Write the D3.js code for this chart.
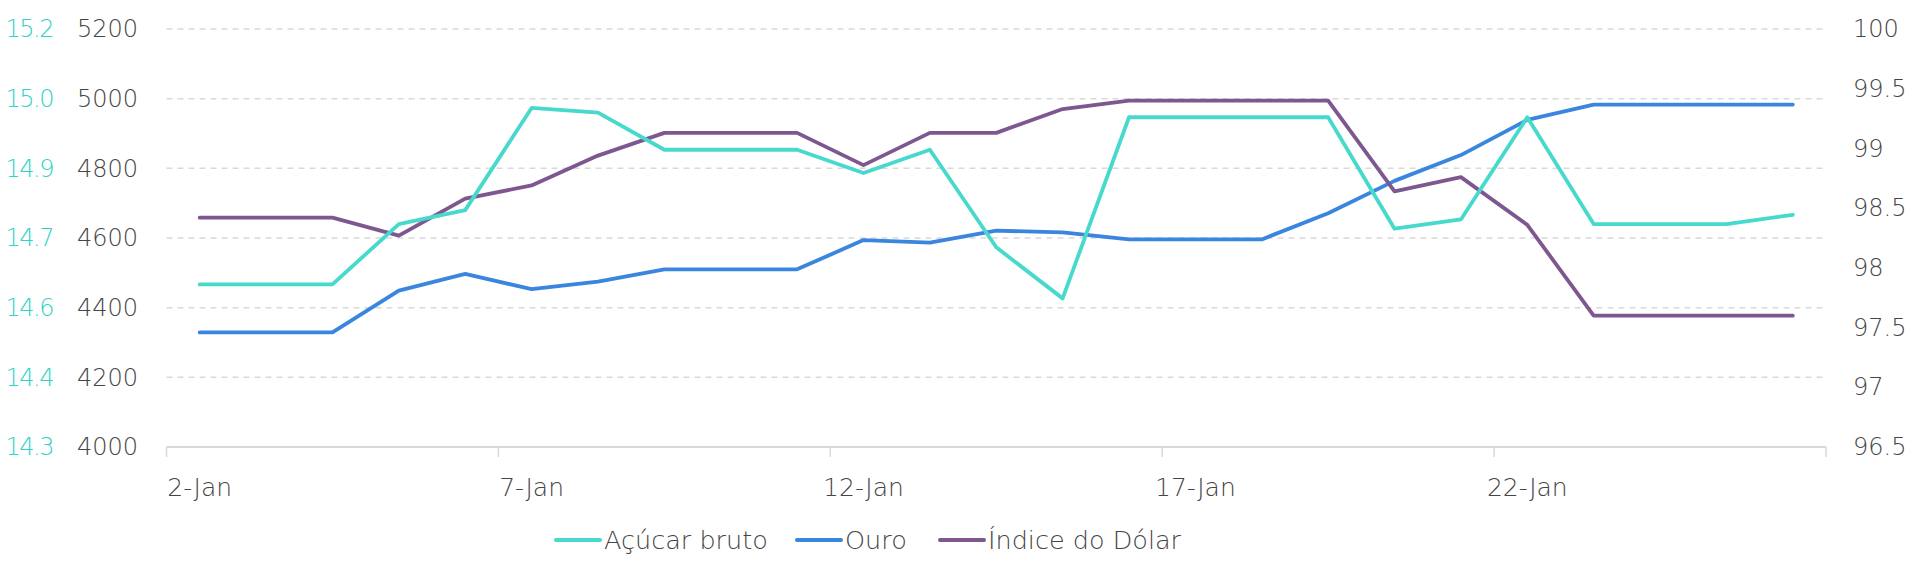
<!DOCTYPE html>
<html><head><meta charset="utf-8">
<script src="https://cdn.jsdelivr.net/npm/d3@7"></script>
<style>body{margin:0;background:#fff} svg text{font-family:"DejaVu Sans",sans-serif;font-weight:300}</style>
</head><body><svg id="c" width="1920" height="578"></svg>
<script>
const dates = ["2-Jan","3-Jan","4-Jan","5-Jan","6-Jan","7-Jan","8-Jan","9-Jan","10-Jan","11-Jan","12-Jan","13-Jan","14-Jan","15-Jan","16-Jan","17-Jan","18-Jan","19-Jan","20-Jan","21-Jan","22-Jan","23-Jan","24-Jan","25-Jan","26-Jan"];
const acucar = [14.65,14.65,14.65,14.78,14.81,15.03,15.02,14.94,14.94,14.94,14.89,14.94,14.73,14.62,15.01,15.01,15.01,15.01,14.77,14.79,15.01,14.78,14.78,14.78,14.80];
const ouro = [4329,4329,4329,4449,4497,4453,4475,4510,4510,4510,4594,4587,4621,4616,4596,4596,4596,4671,4764,4838,4939,4983,4983,4983,4983];
const dolar = [98.42,98.42,98.42,98.27,98.58,98.69,98.94,99.13,99.13,99.13,98.86,99.13,99.13,99.33,99.40,99.40,99.40,99.40,98.64,98.76,98.36,97.60,97.60,97.60,97.60];
const ouroTicks = [4000,4200,4400,4600,4800,5000,5200];
const dolarTicks = [96.5,97,97.5,98,98.5,99,99.5,100];
const acucarTicks = [14.3,14.45,14.6,14.75,14.9,15.05,15.2];
const acucarLabels = ["14.3","14.4","14.6","14.7","14.9","15.0","15.2"];
const xLabelDates = ["2-Jan","7-Jan","12-Jan","17-Jan","22-Jan"];
const seriesNames = ["Açúcar bruto","Ouro","Índice do Dólar"];

const C_TEAL="#47D9CC", C_BLUE="#3A86DE", C_PURP="#7E5791", C_TXT="#454545", C_TEALTXT="#2fd3c3", C_GRID="#d9d9d9";
const svg = d3.select("#c");
const x = d3.scaleBand().domain(dates).range([166.5,1826]);
const cx = d => x(d)+x.bandwidth()/2;
const yO = d3.scaleLinear().domain([4000,5200]).range([447,29]);
const yD = d3.scaleLinear().domain([96.5,100]).range([447,29]);
const yA = d3.scaleLinear().domain([14.3,15.2]).range([447,29]);

// gridlines
svg.append("g").selectAll("line").data(ouroTicks.filter(v=>v>4000)).join("line")
  .attr("x1",166.5).attr("x2",1826).attr("y1",d=>yO(d)).attr("y2",d=>yO(d))
  .attr("stroke",C_GRID).attr("stroke-width",1.5).attr("stroke-dasharray","6,5");

function styleAxis(g,color){
  g.attr("font-family",null).attr("font-size",null);
  g.select(".domain").remove();
  g.selectAll("line").remove();
  g.selectAll("text").attr("fill",color).style("font-size","24px");
}
// left axes
svg.append("g").attr("transform","translate(138,0)")
  .call(d3.axisLeft(yO).tickValues(ouroTicks).tickSize(0).tickPadding(0).tickFormat(d=>String(d)))
  .call(g=>styleAxis(g,C_TXT));
svg.append("g").attr("transform","translate(53,0)")
  .call(d3.axisLeft(yA).tickValues(acucarTicks).tickSize(0).tickPadding(0).tickFormat((d,i)=>acucarLabels[i]))
  .call(g=>styleAxis(g,C_TEALTXT))
  .call(g=>g.selectAll("text").attr("letter-spacing","-1.5"));
// right axis
svg.append("g").attr("transform","translate(1853,0)")
  .call(d3.axisRight(yD).tickValues(dolarTicks).tickSize(0).tickPadding(0).tickFormat(d=>String(d)))
  .call(g=>styleAxis(g,C_TXT));

// bottom axis
svg.append("g").attr("transform","translate(0,447)")
  .call(d3.axisBottom(x).tickValues(xLabelDates).tickSize(0).tickPadding(0))
  .call(g=>{ g.attr("font-family",null).attr("font-size",null); g.select(".domain").remove(); g.selectAll("line").remove();
    g.selectAll("text").attr("fill",C_TXT).style("font-size","25px").attr("y",40).attr("dy","0.35em"); })
  .call(g=>{
    g.append("line").attr("x1",166.5).attr("x2",1826).attr("stroke",C_GRID).attr("stroke-width",2);
    const tk = [0,5,10,15,20].map(i=>x(dates[i])).concat([x.range()[1]]);
    g.selectAll(".tk").data(tk).join("line").attr("class","tk").attr("x1",d=>d).attr("x2",d=>d)
      .attr("y1",0).attr("y2",10).attr("stroke",C_GRID).attr("stroke-width",1.5);
  });

// lines
function drawLine(vals,y,color){
  const line = d3.line().x((d,i)=>cx(dates[i])).y(d=>y(d));
  svg.append("path").datum(vals).attr("d",line).attr("fill","none").attr("stroke",color)
    .attr("stroke-width",3.8).attr("stroke-linejoin","round").attr("stroke-linecap","round");
}
drawLine(ouro,yO,C_BLUE);
drawLine(dolar,yD,C_PURP);
drawLine(acucar,yA,C_TEAL);

// legend
const legX = [556,797,940], legC=[C_TEAL,C_BLUE,C_PURP];
const lg = svg.append("g").attr("transform","translate(0,540)");
seriesNames.forEach((n,i)=>{
  lg.append("line").attr("x1",legX[i]).attr("x2",legX[i]+44).attr("stroke",legC[i]).attr("stroke-width",4).attr("stroke-linecap","round");
  lg.append("text").attr("x",legX[i]+48).attr("dy","0.35em").attr("fill",C_TXT).style("font-size","25.5px").text(n);
});
</script></body></html>
